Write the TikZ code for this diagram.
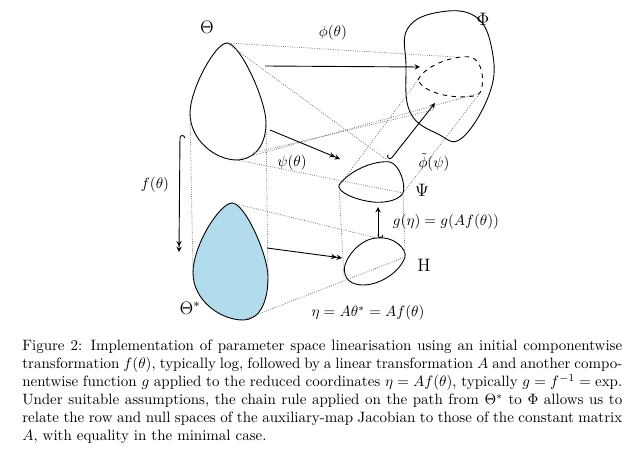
\documentclass[tikz,border=0pt]{standalone}
\usepackage{amsmath,amssymb}
\usetikzlibrary{arrows}
\tikzset{
  link/.style={densely dotted, gray!80!black, line width=0.5pt},
  map/.style={->, >=stealth, semithick},
  mapd/.style={->>, >=stealth, semithick},
  region/.style={semithick},
}
\begin{document}
\begin{tikzpicture}[x=0.6667pt, y=-0.6667pt]
    \useasboundingbox (0,0) rectangle (644,466);
    % regions
    \draw[region] (227,43) .. controls (240,43) and (266,100) .. (266,123) .. controls (266,150) and (250,160) .. (237,160) .. controls (215,160) and (190,140) .. (190,113) .. controls (190,90) and (215,43) .. (227,43);
    \draw[region, fill=cyan!30!white!85!gray] (232,203) .. controls (245,203) and (268,255) .. (268,277) .. controls (268,305) and (258,320) .. (243,320) .. controls (220,320) and (193,300) .. (193,273) .. controls (193,245) and (220,203) .. (232,203);
    \draw[region] plot[smooth cycle, tension=0.7] coordinates {(408,28) (440,12) (476,17) (492,50) (490,92) (462,138) (438,134) (410,112) (406,65)};
    \draw[region, dashed] (418,80) .. controls (425,65) and (455,55) .. (470,57) .. controls (485,60) and (485,90) .. (478,95) .. controls (460,100) and (425,95) .. (418,80);
    \draw[region] (339,185) .. controls (350,170) and (375,160) .. (390,162) .. controls (400,165) and (406,185) .. (403,193) .. controls (398,202) and (380,203) .. (373,202) .. controls (355,200) and (337,192) .. (339,185);
    \draw[region] (377,238) .. controls (395,236) and (407,250) .. (405,257) .. controls (400,272) and (380,285) .. (363,285) .. controls (345,285) and (343,272) .. (345,265) .. controls (350,250) and (365,238) .. (377,238);
    % corner points
    \coordinate (thtop) at (227,43);
    \coordinate (thleft) at (190,113);
    \coordinate (thright) at (266,123);
    \coordinate (thbot) at (237,160);
    \coordinate (thlow) at (253,153);
    \coordinate (tstop) at (232,203);
    \coordinate (tsleft) at (193,273);
    \coordinate (tsright) at (268,277);
    \coordinate (tsbot) at (243,320);
    \coordinate (phtop) at (455,57);
    \coordinate (phleft) at (418,80);
    \coordinate (phright) at (480,93);
    \coordinate (phbot) at (433,110);
    \coordinate (pstop) at (387,160);
    \coordinate (psleft) at (339,186);
    \coordinate (psright) at (403,193);
    \coordinate (htop) at (377,238);
    \coordinate (hleft) at (344,277);
    \coordinate (hright) at (405,257);
    % dotted links
    \draw[link] (thtop) -- (phtop);
    \draw[link] (thtop) -- (pstop);
    \draw[link] (thbot) -- (phright);
    \draw[link] (thbot) -- (psright);
    \draw[link] (thlow) -- (phbot);
    \draw[link] (thleft) -- (tsleft);
    \draw[link] (thright) -- (tsright);
    \draw[link] (tstop) -- (htop);
    \draw[link] (tsbot) -- (hright);
    \draw[link] (psleft) -- (hleft);
    \draw[link] (psright) -- (hright);
    \draw[link] (psleft) -- (phleft);
    \draw[link] (psright) -- (phright);
    % labels
    \node (Th) at (207,27) {\large$\Theta$};
    \node (Ts) at (190,308) {\large$\Theta^*$};
    \node (Ph) at (483,19) {\large$\Phi$};
    \node (Ps) at (422,190) {\large$\Psi$};
    \node (H) at (424,265) {\large$\mathrm{H}$};
    \node (lphi) at (333,33) {$\phi(\theta)$};
    \node (lpsi) at (292,163) {$\psi(\theta)$};
    \node (lf) at (155,185) {$f(\theta)$};
    \node (lg) at (446,222) {$g(\eta) = g(Af(\theta))$};
    \node (lpt) at (434,162) {$\tilde\phi(\psi)$};
    \node (leta) at (368,313) {$\eta = A\theta^* = Af(\theta)$};
    % maps
    \coordinate (a1) at (265,66);   \coordinate (b1) at (420,67);
    \coordinate (a2) at (270,130);  \coordinate (b2) at (340,159);
    \coordinate (a3) at (180,135);  \coordinate (b3) at (179,252);
    \coordinate (a4) at (267,248);  \coordinate (b4) at (342,258);
    \coordinate (a5) at (378,238);  \coordinate (b5) at (378,207);
    \coordinate (a6) at (390,160);  \coordinate (b6) at (435,103);
    \draw[map] (a1) -- (b1);
    \draw[mapd] (a2) -- (b2);
    \draw[mapd, right hook->>] (a3) -- (b3);
    \draw[mapd] (a4) -- (b4);
    \draw[map, left hook->] (a5) -- (b5);
    \draw[map, right hook->] (a6) -- (b6);
    % caption
    \node[anchor=north west, text width=400pt, align=justify, inner sep=0pt] (cap) at (22,340)
      {Figure 2: Implementation of parameter space linearisation using an initial componentwise transformation $f(\theta)$, typically log, followed by a linear transformation $A$ and another componentwise function $g$ applied to the reduced coordinates $\eta = Af(\theta)$, typically $g = f^{-1} = \exp$. Under suitable assumptions, the chain rule applied on the path from $\Theta^*$ to $\Phi$ allows us to relate the row and null spaces of the auxiliary-map Jacobian to those of the constant matrix $A$, with equality in the minimal case.};
\end{tikzpicture}
\end{document}
